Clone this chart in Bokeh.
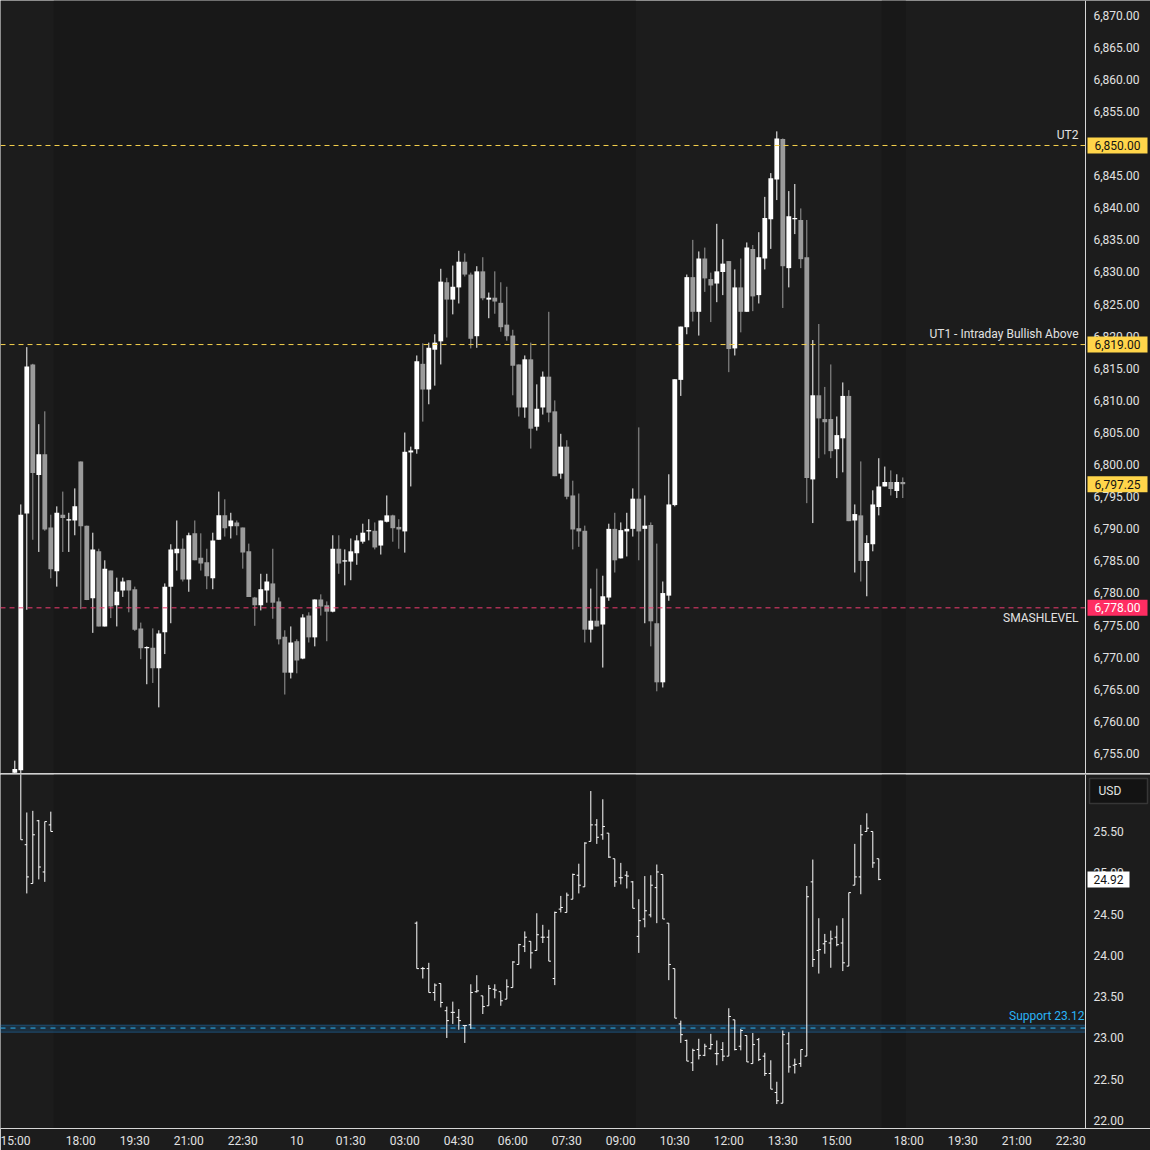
from bokeh.plotting import figure
from bokeh.models import (ColumnDataSource, FixedTicker, Span, BoxAnnotation, Label, Div, Range1d)
from bokeh.layouts import column
from bokeh.embed import file_html
from bokeh.resources import INLINE
from bokeh.core.properties import value

# ---------------- data ----------------
# ES 10-minute candles, bar index 0 = 15:00 (bar 12 = 18:00 after the daily halt)
es_start = 1
es_open = [6752.3, 6752.7, 6792.7, 6815.9, 6798.7, 6801.9, 6790.5, 6783.7, 6792.5, 6791.6,
           6791.6, 6800.8, 6790.8, 6779.5, 6786.8, 6775.1, 6783.8, 6778.4, 6780.7, 6782.3,
           6780.9, 6774.8, 6771.7, 6771.8, 6768.6, 6774.2, 6781.3, 6786.5, 6787.2, 6782.4,
           6789.6, 6785.8, 6785.1, 6782.6, 6788.6, 6792.4, 6790.7, 6791.3, 6790.5, 6786.8,
           6779.6, 6778.4, 6780.7, 6781.8, 6779.0, 6773.5, 6767.9, 6772.8, 6770.1, 6776.8,
           6773.4, 6779.3, 6778.4, 6777.4, 6787.2, 6785.2, 6785.2, 6786.5, 6788.3, 6789.9,
           6790.0, 6787.7, 6791.4, 6792.4, 6790.6, 6789.9, 6802.2, 6802.7, 6816.0, 6812.0,
           6818.2, 6819.5, 6828.7, 6826.0, 6827.9, 6831.9, 6829.9, 6820.3, 6830.4, 6826.0,
           6826.3, 6825.5, 6822.1, 6820.4, 6815.9, 6809.2, 6816.7, 6806.2, 6809.2, 6814.0,
           6808.6, 6798.9, 6803.1, 6795.5, 6790.4, 6790.0, 6774.6, 6776.0, 6775.4, 6779.6,
           6790.3, 6785.7, 6789.9, 6790.3, 6795.0, 6790.3, 6790.9, 6775.6, 6766.4, 6779.9,
           6794.0, 6813.5, 6821.7, 6829.5, 6824.1, 6832.4, 6829.2, 6828.5, 6830.3, 6832.0,
           6818.4, 6827.9, 6824.1, 6833.9, 6826.7, 6832.4, 6838.5, 6844.7, 6851.0, 6830.9,
           6838.5, 6838.4, 6832.6, 6798.0, 6811.1, 6807.4, 6807.4, 6802.7, 6804.4, 6811.0,
           6791.6, 6792.4, 6785.3, 6787.9, 6793.7, 6796.9, 6797.6, 6796.2, 6797.6]
es_high = [6754.2, 6794.1, 6818.6, 6816.0, 6806.6, 6808.6, 6792.5, 6793.8, 6796.1, 6792.8,
           6796.6, 6800.8, 6790.8, 6789.7, 6787.2, 6785.4, 6783.8, 6782.7, 6782.7, 6782.3,
           6781.3, 6775.7, 6772.0, 6774.8, 6774.5, 6781.8, 6787.9, 6791.6, 6788.8, 6789.7,
           6791.6, 6789.6, 6787.2, 6789.7, 6796.1, 6794.9, 6792.8, 6791.6, 6790.5, 6788.0,
           6779.7, 6783.3, 6783.3, 6787.2, 6779.6, 6774.5, 6775.1, 6773.1, 6777.0, 6777.3,
           6779.3, 6780.1, 6779.0, 6789.3, 6789.3, 6787.1, 6788.8, 6789.3, 6791.1, 6791.8,
           6791.3, 6791.6, 6795.5, 6792.5, 6791.8, 6805.3, 6803.1, 6817.3, 6819.2, 6819.3,
           6820.6, 6830.8, 6829.4, 6831.3, 6833.6, 6833.2, 6830.2, 6831.2, 6832.6, 6827.1,
           6830.4, 6828.7, 6828.0, 6821.3, 6815.9, 6817.3, 6819.3, 6812.8, 6814.8, 6824.1,
           6810.3, 6805.1, 6804.1, 6797.8, 6795.8, 6790.8, 6781.0, 6784.1, 6783.0, 6791.1,
           6792.8, 6791.3, 6792.8, 6796.6, 6806.1, 6795.5, 6791.3, 6788.0, 6782.1, 6798.8,
           6813.6, 6821.8, 6829.9, 6835.3, 6833.5, 6834.1, 6830.2, 6837.8, 6835.4, 6832.0,
           6830.7, 6832.4, 6834.9, 6834.5, 6836.5, 6842.0, 6845.7, 6852.2, 6851.1, 6842.9,
           6844.0, 6840.2, 6838.4, 6819.7, 6822.2, 6812.4, 6815.9, 6807.8, 6813.1, 6811.9,
           6794.1, 6800.8, 6789.3, 6796.3, 6801.3, 6800.0, 6799.4, 6798.8, 6798.3]
es_low = [6752.0, 6749.0, 6777.7, 6788.6, 6786.7, 6790.0, 6782.6, 6781.3, 6786.7, 6786.7,
          6789.3, 6777.8, 6779.2, 6774.1, 6775.1, 6775.1, 6776.4, 6775.1, 6779.7, 6777.3,
          6774.4, 6770.0, 6766.1, 6766.3, 6762.5, 6770.8, 6775.6, 6783.8, 6782.1, 6780.5,
          6785.4, 6783.8, 6780.9, 6780.9, 6788.6, 6789.1, 6788.8, 6789.3, 6784.1, 6779.7,
          6775.2, 6777.6, 6778.8, 6776.3, 6772.3, 6764.5, 6767.0, 6767.8, 6770.0, 6772.6,
          6772.0, 6776.8, 6772.8, 6777.3, 6783.3, 6781.5, 6782.3, 6784.7, 6788.0, 6788.5,
          6787.1, 6786.3, 6791.3, 6788.3, 6787.2, 6786.6, 6796.9, 6802.0, 6807.0, 6809.7,
          6812.6, 6815.9, 6820.1, 6823.7, 6825.4, 6829.6, 6818.4, 6818.5, 6825.9, 6823.1,
          6823.8, 6821.0, 6819.6, 6811.1, 6807.8, 6807.6, 6802.8, 6805.6, 6808.1, 6806.9,
          6798.5, 6798.1, 6794.9, 6787.1, 6787.5, 6772.6, 6772.6, 6775.1, 6768.7, 6779.1,
          6783.5, 6785.7, 6786.0, 6789.1, 6785.4, 6775.6, 6772.0, 6765.0, 6765.6, 6779.1,
          6793.8, 6811.0, 6820.6, 6822.6, 6820.4, 6827.2, 6822.5, 6825.6, 6826.7, 6814.7,
          6817.3, 6820.9, 6824.1, 6824.2, 6825.4, 6830.7, 6833.9, 6841.5, 6824.7, 6827.9,
          6836.2, 6830.9, 6794.3, 6791.2, 6801.3, 6801.9, 6801.3, 6798.2, 6799.1, 6791.5,
          6783.5, 6782.1, 6779.8, 6786.8, 6792.4, 6796.9, 6795.5, 6795.1, 6795.1]
es_close = [6752.9, 6792.5, 6815.6, 6799.0, 6801.9, 6790.2, 6784.0, 6792.8, 6792.0, 6791.8,
            6793.8, 6790.7, 6779.2, 6787.1, 6775.1, 6784.1, 6778.2, 6780.5, 6782.1, 6780.7,
            6774.6, 6771.7, 6771.9, 6768.6, 6774.0, 6781.3, 6787.1, 6787.2, 6782.4, 6789.3,
            6785.4, 6784.9, 6782.9, 6788.5, 6792.4, 6790.4, 6791.6, 6790.7, 6786.6, 6779.7,
            6778.4, 6780.9, 6782.1, 6778.8, 6773.1, 6767.9, 6772.6, 6769.8, 6776.5, 6773.4,
            6779.3, 6778.2, 6777.4, 6787.2, 6784.9, 6785.4, 6786.8, 6788.5, 6789.7, 6790.1,
            6787.4, 6791.6, 6792.4, 6790.4, 6790.2, 6802.3, 6802.5, 6816.4, 6812.0, 6818.5,
            6819.3, 6828.8, 6826.0, 6828.0, 6831.9, 6829.9, 6819.9, 6830.4, 6826.2, 6826.3,
            6825.7, 6821.7, 6820.3, 6815.7, 6809.2, 6816.7, 6805.9, 6809.0, 6814.0, 6808.4,
            6798.5, 6803.1, 6795.3, 6790.2, 6789.9, 6774.6, 6776.0, 6775.1, 6779.8, 6790.3,
            6785.4, 6790.1, 6790.3, 6795.0, 6789.9, 6790.8, 6775.9, 6766.4, 6780.3, 6794.1,
            6813.6, 6821.8, 6829.5, 6824.1, 6832.4, 6829.3, 6828.2, 6830.4, 6831.6, 6818.3,
            6827.9, 6824.1, 6834.1, 6826.5, 6832.6, 6838.7, 6844.9, 6851.1, 6831.2, 6839.0,
            6838.7, 6832.3, 6798.2, 6811.1, 6807.5, 6806.9, 6802.4, 6804.9, 6811.0, 6791.5,
            6792.6, 6785.3, 6788.1, 6794.1, 6796.9, 6797.6, 6796.5, 6797.6, 6797.25]

# VIX 10-minute OHLC bars (same bar index as above)
vix_idx = [2, 3, 4, 5, 6, 7] + list(range(68, 146))
vix_open = [26.50, 25.34, 24.87, 25.63, 25.01, 25.58,
            24.39, 23.84, 23.84, 23.55, 23.66, 23.33, 23.31, 23.25, 23.15, 23.16,
            23.56, 23.51, 23.39, 23.59, 23.56, 23.47, 23.61, 23.89, 24.11, 24.17,
            24.06, 24.22, 24.22, 23.72, 24.56, 24.52, 24.68, 24.97, 24.83, 25.38,
            25.58, 25.46, 25.48, 25.17, 24.94, 24.97, 24.89, 24.23, 24.44, 24.49,
            24.82, 24.98, 24.39, 23.84, 23.17, 22.97, 22.70, 22.86, 22.79, 22.87,
            22.81, 22.86, 22.78, 23.22, 22.90, 23.03, 22.69, 22.98, 22.78, 22.57,
            22.34, 22.21, 22.93, 22.67, 22.69, 22.78, 24.89, 24.06, 24.14, 24.15,
            24.22, 24.15, 23.87, 24.85, 24.95, 25.50, 25.50, 25.17]
vix_high = [26.60, 25.73, 25.75, 25.64, 25.62, 25.74,
            24.41, 23.86, 23.91, 23.66, 23.66, 23.38, 23.44, 23.35, 23.15, 23.65,
            23.76, 23.51, 23.64, 23.65, 23.56, 23.71, 23.93, 24.14, 24.29, 24.17,
            24.51, 24.37, 24.31, 24.53, 24.72, 24.76, 24.99, 25.11, 25.37, 25.99,
            25.65, 25.89, 25.48, 25.17, 25.12, 25.02, 24.90, 24.68, 24.96, 24.97,
            25.10, 24.98, 24.39, 23.84, 23.21, 22.98, 22.87, 22.99, 22.93, 23.05,
            22.97, 22.95, 23.36, 23.22, 23.11, 23.03, 23.06, 23.00, 22.82, 22.73,
            22.47, 23.09, 23.07, 22.75, 22.86, 24.84, 25.16, 24.45, 24.26, 24.30,
            24.36, 24.45, 24.76, 25.35, 25.58, 25.72, 25.50, 25.17]
vix_low = [25.40, 24.75, 24.87, 24.92, 24.89, 25.50,
           23.84, 23.72, 23.55, 23.45, 23.37, 23.00, 23.17, 23.10, 22.94, 23.11,
           23.55, 23.29, 23.39, 23.48, 23.39, 23.47, 23.61, 23.89, 24.04, 23.84,
           24.06, 24.15, 23.93, 23.64, 24.52, 24.52, 24.68, 24.75, 24.83, 25.38,
           25.35, 25.40, 25.18, 24.83, 24.86, 24.81, 24.57, 24.03, 24.34, 24.46,
           24.39, 24.44, 23.70, 23.24, 22.94, 22.72, 22.60, 22.74, 22.78, 22.86,
           22.67, 22.72, 22.78, 22.85, 22.85, 22.71, 22.69, 22.72, 22.54, 22.38,
           22.20, 22.21, 22.58, 22.57, 22.65, 22.78, 23.86, 23.78, 24.02, 23.85,
           24.11, 23.81, 23.87, 24.85, 24.74, 25.50, 25.06, 24.91]
vix_close = [25.40, 24.95, 25.46, 25.07, 25.62, 25.50,
             23.84, 23.84, 23.55, 23.64, 23.43, 23.21, 23.31, 23.21, 23.15, 23.55,
             23.57, 23.38, 23.60, 23.58, 23.45, 23.62, 23.92, 24.13, 24.22, 24.03,
             24.25, 24.22, 23.93, 24.52, 24.58, 24.73, 24.98, 24.85, 25.36, 25.58,
             25.43, 25.56, 25.19, 24.89, 24.94, 24.96, 24.57, 24.42, 24.54, 24.85,
             25.01, 24.44, 23.89, 23.24, 23.04, 22.72, 22.85, 22.79, 22.90, 22.92,
             22.81, 22.78, 23.26, 22.86, 23.09, 22.71, 22.92, 22.74, 22.57, 22.38,
             22.24, 23.04, 22.65, 22.68, 22.86, 24.71, 23.95, 24.07, 24.17, 24.20,
             24.13, 23.91, 24.76, 24.95, 25.46, 25.54, 25.12, 24.92]

# time axis
tick_idx = [0, 12, 21, 30, 39, 48, 57, 66, 75, 84, 93, 102, 111, 120, 129, 138, 150, 159, 168, 177]
tick_labels = ["15:00", "18:00", "19:30", "21:00", "22:30", "10", "01:30", "03:00", "04:30",
               "06:00", "07:30", "09:00", "10:30", "12:00", "13:30", "15:00", "18:00", "19:30",
               "21:00", "22:30"]
# extended-hours (darker) session spans, in bar units
eth_spans = [(7.5, 104.5), (145.5, 149.5)]

# horizontal levels
level_names = ["UT2", "UT1 - Intraday Bullish Above"]
level_values = [6850.0, 6819.0]
smash_level = 6778.0
support_level = 23.12
last_es = 6797.25
last_vix = 24.92

es_ticks = list(range(6755, 6871, 5))
vix_ticks = [22.0, 22.5, 23.0, 23.5, 24.0, 24.5, 25.0, 25.5]

# ---------------- style / layout ----------------
BG = "#1c1c1c"
ETH_BG = "#181818"
TXT = "#e2e2e2"
UP = "#ffffff"
DOWN = "#9b9b9b"
YELLOW = "#ffd54a"
PINK = "#ff2d62"
BLUE = "#2ab3f5"
FONT = "Roboto"
W = 1150
TOP_H = 773
BOT_H = 354
XAX_H = 22
PX = 6.0                    # pixels per bar
X0 = -8.3 / PX              # left edge in bar units
X1 = X0 + W / PX            # right edge in bar units
SCALE_X = X0 + 1085 / PX    # price-scale border (bar units)
TICK_X = SCALE_X + 8 / PX   # price-scale label column
LBL_X = SCALE_X - 7 / PX    # right edge of level texts

x_range = Range1d(X0, X1)


def base_fig(h, yr, bottom_border):
    f = figure(frame_width=W, frame_height=h, x_range=x_range, y_range=yr,
               x_axis_location="below" if bottom_border else None, y_axis_location=None,
               toolbar_location=None, output_backend="svg",
               min_border_left=0, min_border_top=0, min_border_right=0,
               min_border_bottom=bottom_border,
               background_fill_color=BG, border_fill_color=BG, outline_line_color=None)
    f.xgrid.visible = False
    f.ygrid.visible = False
    for a, b in eth_spans:
        f.add_layout(BoxAnnotation(left=a, right=b, fill_color=ETH_BG, fill_alpha=1.0,
                                   line_color=None, level="underlay"))
    f.add_layout(Span(location=SCALE_X, dimension="height", line_color="#d6d6d6", line_width=1))
    return f


def scale_labels(f, ticks, texts, dy):
    f.text(x=[TICK_X] * len(ticks), y=ticks, text=texts, text_align="left",
           text_baseline="middle", text_color=TXT, text_font=value(FONT),
           text_font_size="12px", y_offset=dy)


def tag(f, y, txt, fill, color, width):
    f.rect(x=[SCALE_X + (2 + width / 2) / PX], y=[y], width=width, height=16,
           width_units="screen", height_units="screen", fill_color=fill, line_color=None)
    f.text(x=[SCALE_X + (2 + width / 2) / PX], y=[y], text=[txt], text_align="center",
           text_baseline="middle", text_color=color, text_font=value(FONT),
           text_font_size="12px")


# ---------------- price panel ----------------
top = base_fig(TOP_H, Range1d(6752.2, 6872.58), 0)
scale_labels(top, es_ticks, [f"{t:,.2f}" for t in es_ticks], -2)

idx = list(range(es_start, es_start + len(es_open)))
colors, btop, bbot = [], [], []
for o, c in zip(es_open, es_close):
    colors.append(UP if c >= o else DOWN)
    t, b = max(o, c), min(o, c)
    if t - b < 0.2:
        m = (t + b) / 2
        t, b = m + 0.1, m - 0.1
    btop.append(t)
    bbot.append(b)
src = ColumnDataSource(dict(x=idx, h=es_high, l=es_low, t=btop, b=bbot, color=colors))
top.segment(x0="x", y0="l", x1="x", y1="h", color="color", line_width=1, source=src)
top.vbar(x="x", width=0.8, top="t", bottom="b", fill_color="color", line_color=None, source=src)

top.segment(x0=[X0] * 2, y0=level_values, x1=[SCALE_X] * 2, y1=level_values,
            line_color="#f5d04c", line_dash="5 4", line_width=1)
top.segment(x0=[X0], y0=[smash_level], x1=[SCALE_X], y1=[smash_level],
            line_color="#f03c70", line_dash="5 4", line_width=1)
for name, lvl in zip(level_names, level_values):
    top.add_layout(Label(x=LBL_X, y=lvl + 1.7, text=name, text_align="right", text_baseline="middle",
                         text_color=TXT, text_font=FONT, text_font_size="12px"))
    tag(top, lvl, f"{lvl:,.2f}", YELLOW, "#131313", 60)
top.add_layout(Label(x=LBL_X, y=smash_level - 1.6, text="SMASHLEVEL", text_align="right",
                     text_baseline="middle", text_color=TXT, text_font=FONT, text_font_size="12px"))
tag(top, smash_level, f"{smash_level:,.2f}", PINK, "#ffffff", 60)
tag(top, last_es, f"{last_es:,.2f}", YELLOW, "#131313", 60)

# separator line between panels
sep = Div(text="", width=W, height=1, margin=0, styles={"background-color": "#d0d0d0"})

# ---------------- VIX panel ----------------
bot = base_fig(BOT_H, Range1d(21.904, 26.19), XAX_H)
xa = bot.xaxis[0]
xa.axis_line_color = "#d6d6d6"
xa.major_tick_line_color = None
xa.minor_tick_line_color = None
xa.major_tick_out = 0
xa.major_tick_in = 0
xa.minor_tick_out = 0
xa.major_label_text_color = TXT
xa.major_label_text_font = FONT
xa.major_label_text_font_size = "12px"
xa.major_label_standoff = 5
xa.ticker = FixedTicker(ticks=tick_idx)
xa.major_label_overrides = {t: s for t, s in zip(tick_idx, tick_labels)}

scale_labels(bot, vix_ticks, [f"{t:.2f}" for t in vix_ticks], 0)

bot.add_layout(BoxAnnotation(bottom=support_level - 0.05, top=support_level + 0.035, right=SCALE_X,
                             fill_color="#2196f3", fill_alpha=0.16, line_color="#2196f3",
                             line_alpha=0.35, level="underlay"))
bot.segment(x0=[X0], y0=[support_level], x1=[SCALE_X], y1=[support_level],
            line_color=BLUE, line_dash="5 5", line_width=1)
bot.add_layout(Label(x=SCALE_X - 1 / PX, y=support_level + 0.15, text=f"Support {support_level:.2f}",
                     text_align="right", text_baseline="middle", text_color=BLUE,
                     text_font=FONT, text_font_size="12px"))

vsrc = ColumnDataSource(dict(x=vix_idx, o=vix_open, h=vix_high, l=vix_low, c=vix_close,
                             xl=[i - 0.35 for i in vix_idx], xr=[i + 0.35 for i in vix_idx]))
bot.segment(x0="x", y0="l", x1="x", y1="h", color="#ffffff", line_width=1, source=vsrc)
bot.segment(x0="xl", y0="o", x1="x", y1="o", color="#ffffff", line_width=1, source=vsrc)
bot.segment(x0="x", y0="c", x1="xr", y1="c", color="#ffffff", line_width=1, source=vsrc)

tag(bot, last_vix, f"{last_vix:.2f}", "#ffffff", "#131313", 42)
bot.rect(x=[SCALE_X + 33 / PX], y=[25.99], width=58, height=25, width_units="screen",
         height_units="screen", fill_color="#131313", line_color="#363636", line_width=1.5)
bot.text(x=[SCALE_X + 13 / PX], y=[25.99], text=["USD"], text_align="left", text_baseline="middle",
         text_color=TXT, text_font=value(FONT), text_font_size="12px")

layout = column(top, sep, bot, spacing=0)
open("out.html", "w").write(file_html(layout, INLINE))
